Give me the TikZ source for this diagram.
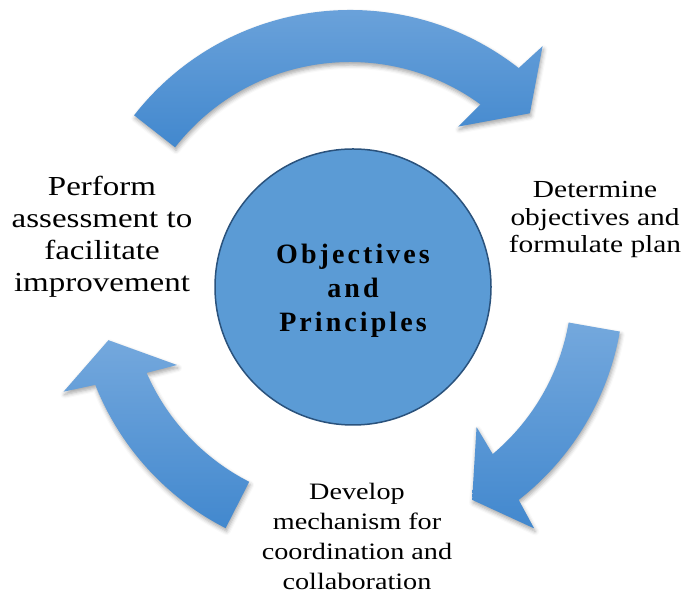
\documentclass[tikz,border=0pt]{standalone}
\usepackage{fontspec}
\setmainfont{Liberation Serif}
\newfontfamily\labelfont[FakeStretch=1.2]{Liberation Serif}
\newfontfamily\corefont[LetterSpace=11]{Liberation Serif}
\usetikzlibrary{shadows.blur}
\definecolor{arrowtop}{RGB}{116,168,221}
\definecolor{arrowbottom}{RGB}{66,136,206}
\definecolor{corefill}{RGB}{91,155,213}
\definecolor{coreline}{RGB}{42,82,124}

\begin{document}
\begin{tikzpicture}[x=1bp, y=1bp,
    cyclearrow/.style={top color=arrowtop, bottom color=arrowbottom,
      blur shadow={shadow xshift=1bp, shadow yshift=-3bp,
        shadow blur radius=4bp, shadow opacity=35}},
    stage/.style={align=center, inner sep=0pt}]
  \useasboundingbox (0,0) rectangle (682,593);
  % three curved block arrows around the hub, clockwise
  \begin{scope}[shift={(350,309)}]
    \foreach \tail/\head in {142/53, -10/-51, 243/202.6}
      \path[cyclearrow] (\tail:274) arc[start angle=\tail, end angle={\head-1}, radius=274]
        -- ({\head-2}:306) -- ({\head-9.5}:248) -- ({\head+2.5}:191) -- ({\head+1}:222)
        arc[start angle={\head+1}, end angle=\tail, radius=222] -- cycle;
  \end{scope}
  \node[circle, draw=coreline, line width=1.5bp, fill=corefill, minimum size=276bp,
    inner sep=0pt] (core) at (353,306) {};
  \node[stage, font=\corefont\bfseries\fontsize{28bp}{34bp}\selectfont] (coretext)
    at (353,302) {Objectives\\and\\Principles};
  \node[stage, font=\labelfont\fontsize{27.5bp}{32bp}\selectfont] (assess) at (102,356)
    {Perform\\assessment to\\facilitate\\improvement};
  \node[stage, font=\labelfont\fontsize{24.5bp}{27.5bp}\selectfont] (plan) at (595,373)
    {Determine\\objectives and\\formulate plan};
  \node[stage, font=\labelfont\fontsize{23.5bp}{30bp}\selectfont] (mechanism) at (357,57)
    {Develop\\mechanism for\\coordination and\\collaboration};
\end{tikzpicture}
\end{document}
